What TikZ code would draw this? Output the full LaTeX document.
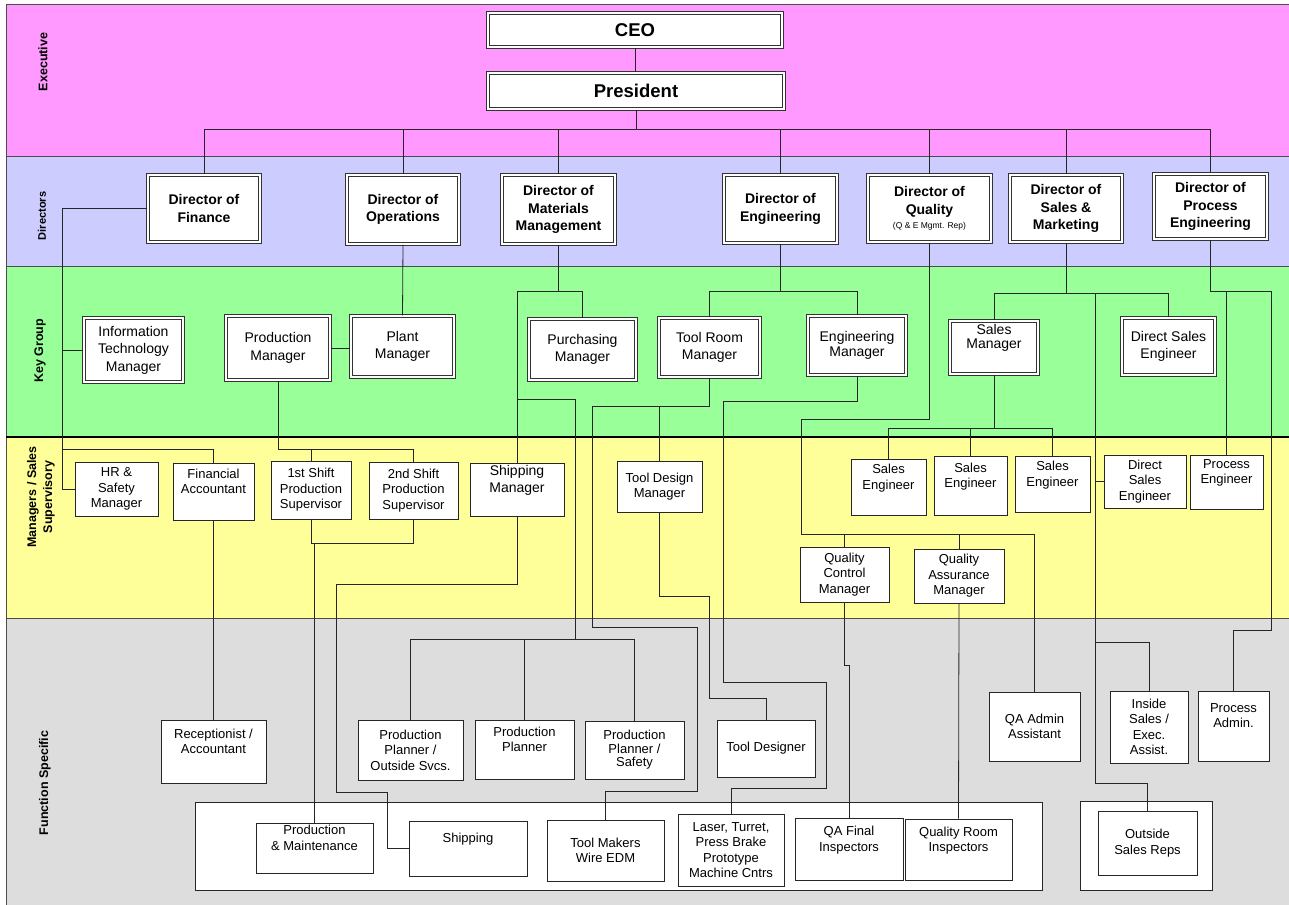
\documentclass[tikz,border=0pt]{standalone}
\usepackage{fontspec}
\setmainfont{Liberation Sans}
\definecolor{pinkband}{HTML}{FF99FF}
\definecolor{lavband}{HTML}{CCCCFF}
\definecolor{greenband}{HTML}{99FF99}
\definecolor{yellowband}{HTML}{FFFF99}
\definecolor{grayband}{HTML}{DDDDDD}
\newcommand\mkbox[7][]{%
  \pgfmathsetmacro\mkw{#5-#3}\pgfmathsetmacro\mkh{#6-#4}%
  \node[sgl,#1,minimum width=\mkw pt,minimum height=\mkh pt] (#2) at ({(#3+#5)/2},{(#4+#6)/2}) {#7};}
\newcommand\mkdbox[7][]{%
  \pgfmathsetmacro\mkw{#5-#3-3.6}\pgfmathsetmacro\mkh{#6-#4-3.6}%
  \node[dbl,#1,minimum width=\mkw pt,minimum height=\mkh pt] (#2) at ({(#3+#5)/2},{(#4+#6)/2}) {#7};}
\newcommand\up{\\[5pt]\mbox{}}
\begin{document}
\begin{tikzpicture}[x=1pt,y=-1pt,
  ln/.style={draw=black!85, line width=0.8pt},
  dbl/.style={draw=black!80, double=white, double distance=2pt, line width=0.8pt, fill=white, inner sep=1pt, align=center},
  sgl/.style={draw=black!85, line width=0.9pt, fill=white, inner sep=1pt, align=center},
  cont/.style={draw=black!85, line width=0.9pt, fill=white},
  exfont/.style={font=\fontsize{18.5}{22}\selectfont\bfseries},
  dirfont/.style={font=\fontsize{14}{17.5}\selectfont\bfseries},
  keyfont/.style={font=\fontsize{14}{17.5}\selectfont},
  supfont/.style={font=\fontsize{13}{15.5}\selectfont},
  band/.style={draw=black!70, line width=0.8pt},
  bandlbl/.style={rotate=90, font=\fontsize{12.5}{16}\selectfont\bfseries, align=center}]
\useasboundingbox (0,0) rectangle (1289,904);
% bands
\draw[band, fill=pinkband] (6,4) rectangle (1290,156);
\draw[band, fill=lavband] (6,156) rectangle (1290,266);
\draw[band, fill=greenband] (6,266) rectangle (1290,437);
\draw[band, fill=yellowband] (6,437) rectangle (1290,618);
\draw[band, fill=grayband] (6,618) rectangle (1290,905);
\draw[line width=2pt] (6,437) -- (1290,437);
% band labels
\node[bandlbl] (lexec) at (43,62) {Executive};
\node[bandlbl, font=\fontsize{11}{13}\selectfont\bfseries] (ldir) at (42,216) {Directors};
\node[bandlbl] (lkey) at (40,351) {Key Group};
\node[bandlbl] (lsup) at (41,497) {Managers / Sales\\Supervisory};
\node[bandlbl] (lfun) at (45,783) {Function Specific};
% containers
\draw[cont] (195,802) rectangle (1042,890);
\draw[cont] (1080,801) rectangle (1212,890);
% executive
\mkdbox[exfont]{ceo}{486}{11}{784}{49}{CEO}
\mkdbox[exfont]{pres}{486}{71}{786}{111}{President}
% directors
\mkdbox[dirfont]{dfin}{146}{173}{262}{244}{Director of\\Finance}
\mkdbox[dirfont]{dops}{345}{173}{461}{246}{Director of\\Operations}
\mkdbox[dirfont]{dmat}{500}{173}{617}{246}{Director of\\Materials\\Management}
\mkdbox[dirfont]{deng}{722}{173}{839}{245}{Director of\\Engineering}
\mkdbox[dirfont]{dqual}{866}{173}{993}{244}{Director of\\Quality\\[-3pt]{\fontsize{8.5}{10}\selectfont\mdseries (Q \& E Mgmt. Rep)}}
\mkdbox[dirfont]{dsales}{1008}{173}{1124}{244}{Director of\\Sales \&\\Marketing}
\mkdbox[dirfont]{dproc}{1152}{172}{1269}{241}{Director of\\Process\\Engineering}
% key group
\mkdbox[keyfont]{itm}{82}{316}{185}{384}{Information\\Technology\\Manager}
\mkdbox[keyfont]{prodm}{224}{314}{332}{382}{Production\\Manager}
\mkdbox[keyfont]{plant}{349}{314}{456}{379}{Plant\\Manager}
\mkdbox[keyfont]{purch}{527}{317}{638}{382}{Purchasing\\Manager}
\mkdbox[keyfont]{toolr}{657}{316}{762}{379}{Tool Room\\Manager}
\mkdbox[keyfont]{engm}{806}{314}{908}{377}{Engineering\\[-3pt]Manager}
\mkdbox[keyfont]{salesm}{948}{319}{1040}{376}{Sales\\[-3pt]Manager\up}
\mkdbox[keyfont]{dse}{1120}{316}{1217}{377}{Direct Sales\\Engineer}
% managers / sales supervisory
\mkbox[supfont]{hr}{75}{462}{158}{516}{HR \&\\Safety\\Manager}
\mkbox[supfont]{finacc}{173}{463}{254}{520}{Financial\\Accountant\up}
\mkbox[supfont]{sh1}{271}{461}{351}{519}{1st Shift\\Production\\Supervisor}
\mkbox[supfont]{sh2}{369}{462}{458}{519}{2nd Shift\\Production\\Supervisor}
\mkbox[keyfont]{shipm}{470}{464}{564}{516}{Shipping\\Manager\up}
\mkbox[supfont]{tdm}{617}{461}{702}{512}{Tool Design\\Manager}
\mkbox[supfont]{se1}{851}{459}{926}{515}{Sales\\Engineer\up}
\mkbox[supfont]{se2}{934}{456}{1007}{515}{Sales\\Engineer\up}
\mkbox[supfont]{se3}{1015}{456}{1090}{512}{Sales\\Engineer\up}
\mkbox[supfont]{dse2}{1104}{455}{1186}{508}{Direct\\Sales\\Engineer}
\mkbox[supfont]{proce}{1190}{455}{1263}{509}{Process\\Engineer\up}
\mkbox[supfont]{qcm}{800}{547}{889}{602}{Quality\\Control\\Manager}
\mkbox[supfont]{qam}{914}{549}{1004}{603}{Quality\\Assurance\\Manager}
% function specific
\mkbox[supfont]{recep}{161}{720}{266}{783}{Receptionist /\\Accountant\up}
\mkbox[supfont]{pp1}{358}{720}{463}{780}{Production\\Planner /\\Outside Svcs.}
\mkbox[supfont]{pp2}{475}{720}{574}{779}{Production\\Planner\up}
\mkbox[supfont]{pp3}{585}{721}{684}{779}{Production\\[-2pt]Planner /\\[-2pt]Safety}
\mkbox[supfont]{tdes}{717}{720}{815}{777}{Tool Designer}
\mkbox[supfont]{qaadm}{989}{692}{1080}{761}{QA Admin\\Assistant}
\mkbox[supfont]{inside}{1110}{691}{1188}{763}{Inside\\Sales /\\Exec.\\Assist.}
\mkbox[supfont]{padm}{1198}{691}{1269}{761}{Process\\Admin.\up}
\mkbox[supfont]{pm}{256}{823}{373}{873}{Production\\\& Maintenance\up}
\mkbox[supfont]{ship}{409}{821}{527}{876}{Shipping\up}
\mkbox[supfont]{tmk}{547}{820}{664}{881}{Tool Makers\\Wire EDM}
\mkbox[supfont]{laser}{678}{814}{784}{886}{Laser, Turret,\\Press Brake\\Prototype\\Machine Cntrs}
\mkbox[supfont]{qaf}{795}{818}{903}{880}{QA Final\\Inspectors\up}
\mkbox[supfont]{qroom}{905}{819}{1012}{880}{Quality Room\\Inspectors\up}
\mkbox[supfont]{osr}{1098}{811}{1197}{875}{Outside\\Sales Reps}
% ---------- connectors ----------
\coordinate (bus0) at (0,129);
\draw[ln] (ceo.south) -- (ceo.south |- pres.north);
\draw[ln] (pres.south) -- (pres.south |- bus0);
\draw[ln] (dfin.north) |- (dproc.north |- bus0) -- (dproc.north);
\foreach \n in {dops,dmat,deng,dqual,dsales} \draw[ln] (\n.north) -- (\n.north |- bus0);
% finance
\coordinate (fl) at (62,0);
\coordinate (jfa) at (62,449);
\draw[ln] (dfin.west) -| (fl |- hr.west) -- (hr.west);
\draw[ln] (itm.west) -- (itm.west -| fl);
\draw[ln] (jfa) -| (finacc.north);
\draw[ln] (finacc.south) -- (recep.north);
% operations
\draw[ln] (dops.south) -- (plant.north);
\draw[ln] (prodm.east) -- (prodm.east -| plant.west);
\coordinate (jsh) at (0,449);
\draw[ln] (prodm.south) -- (prodm.south |- jsh) -| (sh2.north);
\draw[ln] (sh1.north) -- (sh1.north |- jsh);
\coordinate (jsb) at (0,543);
\draw[ln] (sh1.south) |- (sh2.south |- jsb) -- (sh2.south);
\draw[ln] (pm.north) -- (pm.north |- jsb);
% materials
\coordinate (jm) at (0,291);
\draw[ln] (dmat.south) -- (dmat.south |- jm);
\draw[ln] (shipm.north) |- (purch.north |- jm) -- (purch.north);
\coordinate (jpp) at (575,639);
\coordinate (jmb) at (0,399);
\draw[ln] (shipm.north |- jmb) -| (jpp);
\draw[ln] (pp1.north) |- (pp3.north |- jpp) -- (pp3.north);
\draw[ln] (pp2.north) -- (pp2.north |- jpp);
\coordinate (s1) at (336,584);
\coordinate (s2) at (387,792);
\draw[ln] (shipm.south) |- (s1) |- (s2) |- (ship.west);
% engineering
\coordinate (je) at (0,291);
\draw[ln] (deng.south) -- (deng.south |- je);
\draw[ln] (toolr.north) |- (engm.north |- je) -- (engm.north);
\coordinate (t1) at (592,406);
\coordinate (t2) at (697,627);
\coordinate (t3) at (0,791);
\draw[ln] (toolr.south) |- (t1) |- (t2) |- (tmk.north |- t3) -- (tmk.north);
\draw[ln] (tdm.north) -- (tdm.north |- t1);
\coordinate (d1) at (709,596);
\coordinate (d2) at (0,698);
\draw[ln] (tdm.south) |- (d1) |- (tdes.north |- d2) -- (tdes.north);
\coordinate (e1) at (723,401);
\coordinate (e2) at (826,682);
\coordinate (e3) at (0,788);
\draw[ln] (engm.south) |- (e1) |- (e2) |- (laser.north |- e3) -- (laser.north);
% quality
\coordinate (q1) at (801,419);
\coordinate (q2) at (1034,534);
\draw[ln] (dqual.south) |- (q1) |- (q2) -- (q2 |- qaadm.north);
\draw[ln] (qcm.north) -- (qcm.north |- q2);
\draw[ln] (qam.north) -- (qam.north |- q2);
\coordinate (q3) at (0,665);
\draw[ln] (qcm.south) -- (qcm.south |- q3) -| (qaf.north);
\draw[ln] (qam.south) -- (qroom.north);
% sales
\coordinate (js) at (0,293);
\draw[ln] (dsales.south) -- (dsales.south |- js);
\draw[ln] (salesm.north) |- (dse.north |- js) -- (dse.north);
\coordinate (sl) at (1095,293);
\coordinate (so) at (0,783);
\coordinate (si) at (0,642);
\draw[ln] (sl) |- (osr.north |- so) -- (osr.north);
\draw[ln] (sl |- dse2.west) -- (dse2.west);
\draw[ln] (sl |- si) -| (inside.north);
\coordinate (jse) at (0,428);
\draw[ln] (salesm.south) -- (salesm.south |- jse);
\draw[ln] (se1.north) |- (se3.north |- jse) -- (se3.north);
\draw[ln] (se2.north) -- (se2.north |- jse);
% process
\coordinate (p1) at (1271,291);
\coordinate (p2) at (0,630);
\draw[ln] (dproc.south) |- (p1) |- (padm.north |- p2) -- (padm.north);
\draw[ln] (proce.north) -- (proce.north |- p1);
\end{tikzpicture}
\end{document}
